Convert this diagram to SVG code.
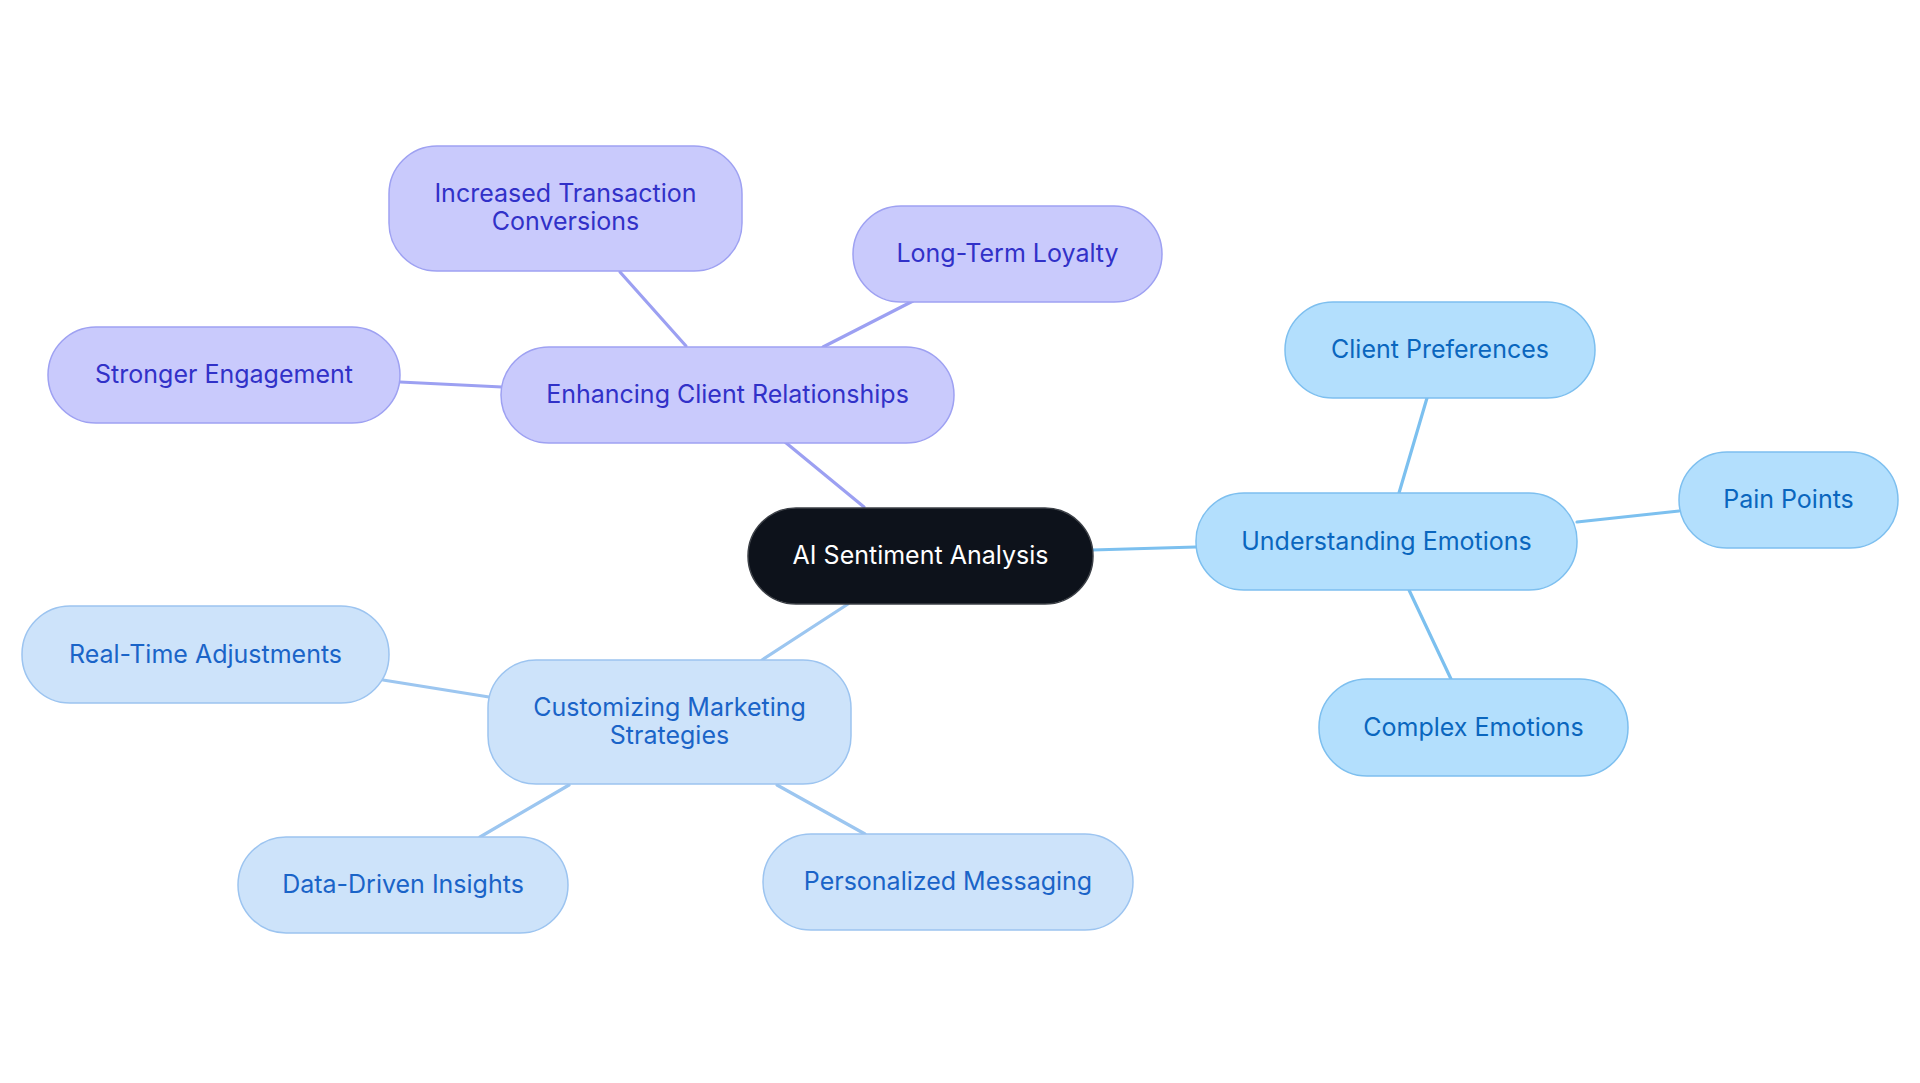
<svg xmlns="http://www.w3.org/2000/svg" width="1920" height="1083" viewBox="0 0 1920 1083">
<style>
text{font-family:Inter,"Noto Sans","Liberation Sans",sans-serif;font-size:25px;text-anchor:middle}
.c line{stroke-width:3.2;stroke-linecap:round}
.lp{stroke:#9ca0f2}
.lb{stroke:#7cc0ef}
.ll{stroke:#9cc6f0}
.root rect{fill:#0d121b;stroke:#3c4047;stroke-width:1.5}
.root text{fill:#ffffff}
.p rect{fill:#c9cafc;stroke:#9ea1f2;stroke-width:1.5}
.p text{fill:#3131c8}
.b rect{fill:#b3dffd;stroke:#7dbfef;stroke-width:1.5}
.b text{fill:#0a66be}
.l rect{fill:#cde3fa;stroke:#9cc4f0;stroke-width:1.5}
.l text{fill:#1a64c8}
</style>
<rect width="1920" height="1083" fill="#ffffff"/>
<g id="connectors" class="c">
<line class="lp" x1="864" y1="507" x2="785" y2="442"/>
<line class="lp" x1="686" y1="346" x2="620" y2="272"/>
<line class="lp" x1="823" y1="347" x2="913" y2="301"/>
<line class="lp" x1="502" y1="387" x2="400" y2="382"/>
<line class="lb" x1="1092" y1="550" x2="1196" y2="547"/>
<line class="lb" x1="1399" y1="493" x2="1427" y2="398"/>
<line class="lb" x1="1577" y1="522" x2="1679" y2="511"/>
<line class="lb" x1="1409" y1="590" x2="1451" y2="679"/>
<line class="ll" x1="848" y1="604" x2="762" y2="660"/>
<line class="ll" x1="489" y1="697" x2="383" y2="680"/>
<line class="ll" x1="569" y1="785" x2="480" y2="837"/>
<line class="ll" x1="777" y1="785" x2="865" y2="834"/>
</g>
<g id="root" class="root">
<rect x="748" y="508" width="345" height="96" rx="48"/>
<text x="920.5" y="564">AI Sentiment Analysis</text>
</g>
<g id="enhancing" class="p">
<rect x="501" y="347" width="453" height="96" rx="48"/>
<text x="727.5" y="403">Enhancing Client Relationships</text>
</g>
<g id="increased" class="p">
<rect x="389" y="146" width="353" height="125" rx="48"/>
<text x="565.5" y="202">Increased Transaction</text>
<text x="565.5" y="230">Conversions</text>
</g>
<g id="loyalty" class="p">
<rect x="853" y="206" width="309" height="96" rx="48"/>
<text x="1007.5" y="262">Long-Term Loyalty</text>
</g>
<g id="engagement" class="p">
<rect x="48" y="327" width="352" height="96" rx="48"/>
<text x="224" y="383">Stronger Engagement</text>
</g>
<g id="understanding" class="b">
<rect x="1196" y="493" width="381" height="97" rx="48"/>
<text x="1386.5" y="550">Understanding Emotions</text>
</g>
<g id="preferences" class="b">
<rect x="1285" y="302" width="310" height="96" rx="48"/>
<text x="1440" y="358">Client Preferences</text>
</g>
<g id="pain" class="b">
<rect x="1679" y="452" width="219" height="96" rx="48"/>
<text x="1788.5" y="508">Pain Points</text>
</g>
<g id="complex" class="b">
<rect x="1319" y="679" width="309" height="97" rx="48"/>
<text x="1473.5" y="736">Complex Emotions</text>
</g>
<g id="customizing" class="l">
<rect x="488" y="660" width="363" height="124" rx="48"/>
<text x="669.5" y="716">Customizing Marketing</text>
<text x="669.5" y="744">Strategies</text>
</g>
<g id="realtime" class="l">
<rect x="22" y="606" width="367" height="97" rx="48"/>
<text x="205.5" y="663">Real-Time Adjustments</text>
</g>
<g id="datadriven" class="l">
<rect x="238" y="837" width="330" height="96" rx="48"/>
<text x="403" y="893">Data-Driven Insights</text>
</g>
<g id="personalized" class="l">
<rect x="763" y="834" width="370" height="96" rx="48"/>
<text x="948" y="890">Personalized Messaging</text>
</g>
</svg>
